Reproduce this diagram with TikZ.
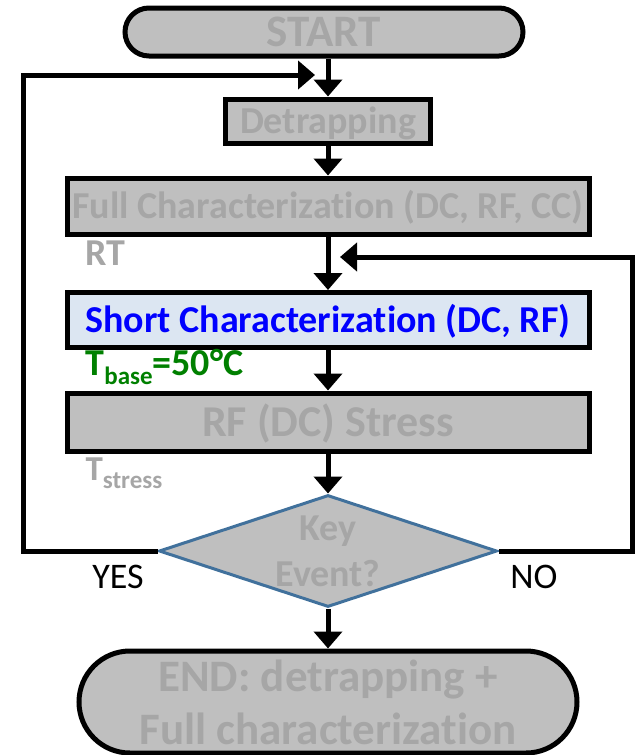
\documentclass[tikz,border=0pt]{standalone}
\usepackage{fontspec}
\setmainfont{Carlito}[Ligatures=NoCommon]
\usetikzlibrary{arrows.meta,shapes.geometric}

\definecolor{boxgray}{HTML}{BFBFBF}
\definecolor{txtgray}{HTML}{A6A6A6}
\definecolor{lightblue}{HTML}{DCE6F2}
\definecolor{diaborder}{HTML}{41719C}
\definecolor{darkgreen}{HTML}{008000}

\newcommand{\fsize}[2]{\fontsize{#1}{#2}\selectfont}

\begin{document}
\begin{tikzpicture}[x=1pt,y=-1pt,
    block/.style={draw=black, line width=5pt, fill=boxgray, text=txtgray,
        font=\fsize{38}{46}\bfseries, inner sep=0pt, text height=24pt, text depth=0pt},
    arr/.style={line width=5pt, -{Triangle[width=28pt,length=17pt]}},
    note/.style={anchor=base west, font=\fsize{38}{44}\bfseries}]
    \useasboundingbox (0,0) rectangle (635,755);

    \node[block, rounded corners=24pt, minimum width=398pt, minimum height=48pt,
        font=\fsize{45}{52}\bfseries, text height=28pt] (start) at (324,32) {START};
    \node[block, minimum width=205pt, minimum height=44pt] (detrap) at (328,121) {Detrapping};
    \node[block, minimum width=522pt, minimum height=56pt] (full) at (328,206) {Full Characterization (DC, RF, CC)};
    \node[block, fill=lightblue, text=blue, minimum width=522pt, minimum height=55pt] (short) at (328,320) {Short Characterization (DC, RF)};
    \node[block, minimum width=522pt, minimum height=58pt, font=\fsize{44}{50}\bfseries,
        text height=28pt] (stress) at (328,422) {RF (DC) Stress};
    \node[diamond, draw=diaborder, line width=3pt, fill=boxgray, inner sep=0pt,
        minimum width=338pt, minimum height=112pt,
        label={[text=txtgray, font=\fsize{38}{46}\bfseries, align=center]center:Key\\Event?}] (dia) at (328,551) {};
    \node[block, rounded corners=51pt, minimum width=498pt, minimum height=102pt,
        label={[text=txtgray, font=\fsize{45}{53}\bfseries, align=center]center:END: detrapping +\\Full characterization}] (end) at (328,702) {};

    \foreach \a/\b in {start/detrap, detrap/full, full/short, short/stress, stress/dia, dia/end}
        \draw[arr] (\a.south -| \b.north) -- (\b.north);

    % loops back
    \coordinate (lcorner) at (23,75);
    \coordinate (lin) at (315,75);
    \coordinate (rcorner) at (632,257);
    \coordinate (rin) at (340,257);
    \draw[arr] (dia.west) -| (lcorner) -- (lin);
    \draw[arr] (dia.east) -| (rcorner) -- (rin);

    \node[note, text=txtgray] (rt) at (82,265) {RT};
    \node[note, text=darkgreen] (tbase) at (82,375) {T\raisebox{-9pt}{\fsize{25}{30}\bfseries base}=50°C};
    \node[note, text=txtgray, font=\fsize{35}{40}\bfseries] (tstress) at (82,480) {T\raisebox{-8pt}{\fsize{25}{30}\bfseries stress}};
    \node[anchor=base, font=\fsize{36}{42}] (yes) at (118,588) {YES};
    \node[anchor=base, font=\fsize{36}{42}] (no) at (534,588) {NO};
\end{tikzpicture}
\end{document}
